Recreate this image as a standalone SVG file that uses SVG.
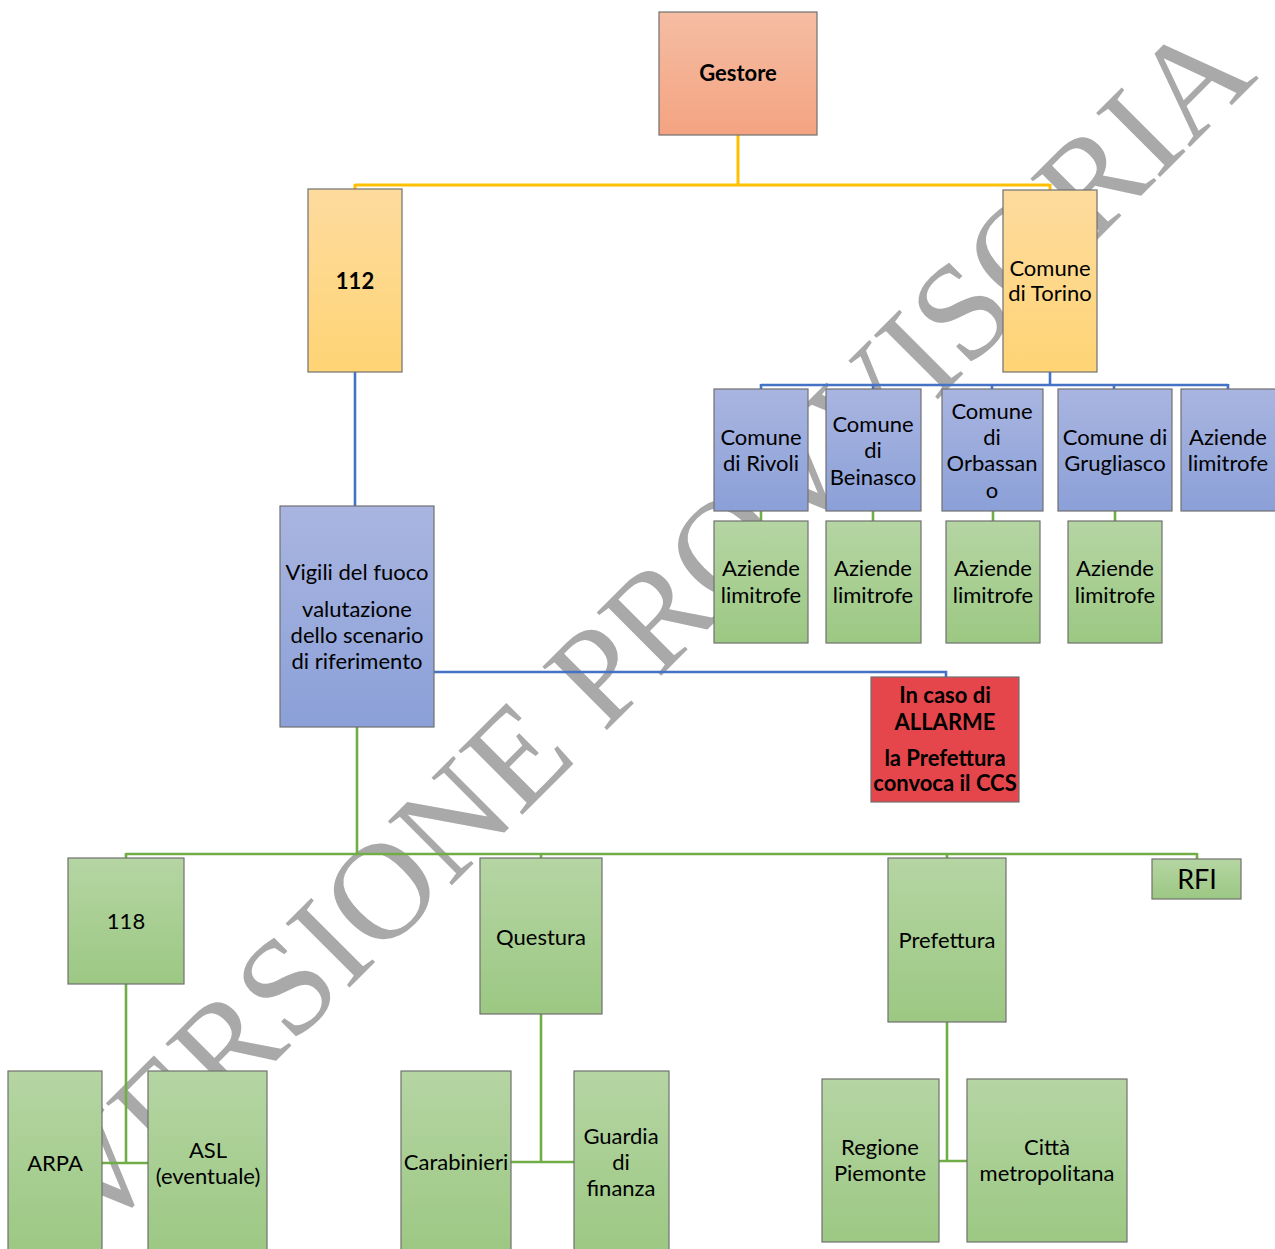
<svg xmlns="http://www.w3.org/2000/svg" width="1275" height="1249" viewBox="0 0 1275 1249">
<defs>
<linearGradient id="gGreen" x1="0" y1="0" x2="0" y2="1"><stop offset="0" stop-color="#b5d5a3"/><stop offset="1" stop-color="#9cc883"/></linearGradient>
<linearGradient id="gBlue" x1="0" y1="0" x2="0" y2="1"><stop offset="0" stop-color="#a9b5e0"/><stop offset="1" stop-color="#8ba0d8"/></linearGradient>
<linearGradient id="gYellow" x1="0" y1="0" x2="0" y2="1"><stop offset="0" stop-color="#fddb9e"/><stop offset="1" stop-color="#ffd475"/></linearGradient>
<linearGradient id="gSalmon" x1="0" y1="0" x2="0" y2="1"><stop offset="0" stop-color="#f5bda3"/><stop offset="1" stop-color="#f4a381"/></linearGradient>
</defs>
<style>
.box{stroke:#707070;stroke-width:1.2}
.g{fill:url(#gGreen)}
.b{fill:url(#gBlue)}
.y{fill:url(#gYellow)}
.s{fill:url(#gSalmon)}
.r{fill:#e5464b}
text{font-family:Lato,"Liberation Sans",sans-serif;font-size:22px;fill:#000;text-anchor:middle}
.bold{font-weight:bold}
.cy{fill:none;stroke:#ffc000;stroke-width:3}
.cb{fill:none;stroke:#4472c4;stroke-width:2.6}
.cg{fill:none;stroke:#70ad47;stroke-width:2.6}
.wm{font-family:"Liberation Serif","Times New Roman",serif;font-size:138px;fill:#a9a9a9;text-anchor:middle}
</style>
<rect width="1275" height="1249" fill="#ffffff"/>
<text class="wm" x="678" y="659" transform="rotate(-45 678 659)">VERSIONE PROVVISORIA</text>
<g id="connectors">
<path class="cy" d="M738,135 V185 M355,185 H1050 M355,184 V190 M1050,184 V190"/>
<path class="cb" d="M355,372 V506 M1050,372 V385 M761,385 H1228 M761,384 V389 M873,384 V389 M992,384 V389 M1114,384 V389 M1228,384 V389"/>
<path class="cb" d="M434,672 H946 V678"/>
<path class="cg" d="M761,511 V521 M873,511 V521 M993,511 V521 M1115,511 V521"/>
<path class="cg" d="M357,727 V854 M126,854 H1197 M126,853 V858 M541,853 V858 M947,853 V858 M1197,853 V859"/>
<path class="cg" d="M126,984 V1163 M102,1163 H148"/>
<path class="cg" d="M541,1014 V1162 M511,1162 H574"/>
<path class="cg" d="M947,1022 V1161 M939,1161 H967"/>
</g>
<g id="gestore"><rect class="box s" x="659" y="12" width="158" height="123"/><text class="bold" x="738" y="81">Gestore</text></g>
<g id="n112"><rect class="box y" x="308" y="189" width="94" height="183"/><text class="bold" x="355" y="289">112</text></g>
<g id="torino"><rect class="box y" x="1003" y="190" width="94" height="182"/><text x="1050" y="276">Comune</text><text x="1050" y="301">di Torino</text></g>
<g id="rivoli"><rect class="box b" x="714" y="389" width="94" height="122"/><text x="761" y="445">Comune</text><text x="761" y="471">di Rivoli</text></g>
<g id="beinasco"><rect class="box b" x="826" y="389" width="95" height="122"/><text x="873" y="432">Comune</text><text x="873" y="458">di</text><text x="873" y="485">Beinasco</text></g>
<g id="orbassano"><rect class="box b" x="942" y="389" width="101" height="122"/><text x="992" y="419">Comune</text><text x="992" y="445">di</text><text x="992" y="471">Orbassan</text><text x="992" y="498">o</text></g>
<g id="grugliasco"><rect class="box b" x="1058" y="389" width="114" height="122"/><text x="1115" y="445">Comune di</text><text x="1115" y="471">Grugliasco</text></g>
<g id="aziende-blu"><rect class="box b" x="1181" y="389" width="96" height="122"/><text x="1228" y="445">Aziende</text><text x="1228" y="471">limitrofe</text></g>
<g id="aziende-rivoli"><rect class="box g" x="714" y="521" width="94" height="122"/><text x="761" y="576">Aziende</text><text x="761" y="603">limitrofe</text></g>
<g id="aziende-beinasco"><rect class="box g" x="826" y="521" width="95" height="122"/><text x="873" y="576">Aziende</text><text x="873" y="603">limitrofe</text></g>
<g id="aziende-orbassano"><rect class="box g" x="946" y="521" width="94" height="122"/><text x="993" y="576">Aziende</text><text x="993" y="603">limitrofe</text></g>
<g id="aziende-grugliasco"><rect class="box g" x="1068" y="521" width="94" height="122"/><text x="1115" y="576">Aziende</text><text x="1115" y="603">limitrofe</text></g>
<g id="vigili"><rect class="box b" x="280" y="506" width="154" height="221"/><text x="357" y="580">Vigili del fuoco</text><text x="357" y="617">valutazione</text><text x="357" y="643">dello scenario</text><text x="357" y="669">di riferimento</text></g>
<g id="allarme"><rect class="box r" x="871" y="677" width="148" height="125"/><text class="bold" x="945" y="703">In caso di</text><text class="bold" x="945" y="730">ALLARME</text><text class="bold" x="945" y="766">la Prefettura</text><text class="bold" x="945" y="791">convoca il CCS</text></g>
<g id="n118"><rect class="box g" x="68" y="858" width="116" height="126"/><text x="126" y="929">118</text></g>
<g id="questura"><rect class="box g" x="480" y="858" width="122" height="156"/><text x="541" y="945">Questura</text></g>
<g id="prefettura"><rect class="box g" x="888" y="858" width="118" height="164"/><text x="947" y="948">Prefettura</text></g>
<g id="rfi"><rect class="box g" x="1152" y="859" width="89" height="40"/><text x="1197" y="889" style="font-size:27px">RFI</text></g>
<g id="arpa"><rect class="box g" x="8" y="1071" width="94" height="182"/><text x="55" y="1171">ARPA</text></g>
<g id="asl"><rect class="box g" x="148" y="1071" width="119" height="182"/><text x="208" y="1158">ASL</text><text x="208" y="1184">(eventuale)</text></g>
<g id="carabinieri"><rect class="box g" x="401" y="1071" width="110" height="182"/><text x="456" y="1170">Carabinieri</text></g>
<g id="guardia"><rect class="box g" x="574" y="1071" width="95" height="182"/><text x="621" y="1144">Guardia</text><text x="621" y="1170">di</text><text x="621" y="1196">finanza</text></g>
<g id="regione"><rect class="box g" x="822" y="1079" width="117" height="163"/><text x="880" y="1155">Regione</text><text x="880" y="1181">Piemonte</text></g>
<g id="citta"><rect class="box g" x="967" y="1079" width="160" height="163"/><text x="1047" y="1155">Città</text><text x="1047" y="1181">metropolitana</text></g>
</svg>
